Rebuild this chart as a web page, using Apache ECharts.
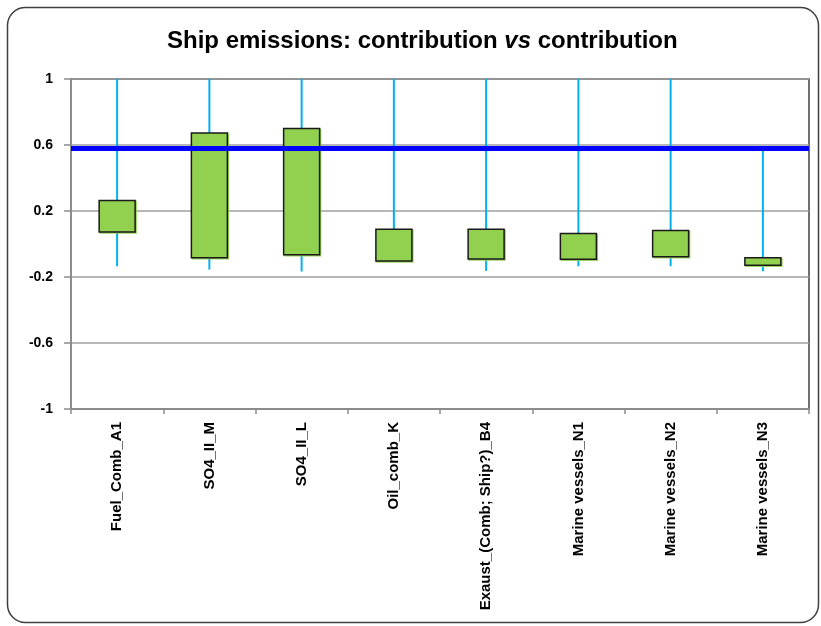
<!DOCTYPE html>
<html>
<head>
<meta charset="utf-8">
<script src="https://cdn.jsdelivr.net/npm/echarts@6/dist/echarts.min.js"></script>
<style>html,body{margin:0;padding:0;background:#fff;}#c{width:821px;height:626px;}</style>
</head>
<body>
<div id="c"></div>
<script>
const categories = ['Fuel_Comb_A1','SO4_II_M','SO4_II_L','Oil_comb_K','Exaust_(Comb; Ship?)_B4','Marine vessels_N1','Marine vessels_N2','Marine vessels_N3'];
const boxHigh = [0.263, 0.673, 0.700, 0.090, 0.090, 0.064, 0.082, -0.083];
const boxLow = [0.072, -0.083, -0.065, -0.103, -0.091, -0.093, -0.077, -0.129];
const whiskerHigh = [1, 1, 1, 1, 1, 1, 1, 0.58];
const whiskerLow = [-0.135, -0.155, -0.167, -0.103, -0.163, -0.135, -0.135, -0.165];
const threshold = 0.585;
const yMin = -1, yMax = 1, yStep = 0.4;

const chart = echarts.init(document.getElementById('c'), null, {renderer: 'canvas'});
const FONT = 'Liberation Sans';

function renderItem(params, api) {
  const i = api.value(0);
  const x = api.coord([i, 0])[0];
  const yBL = api.coord([i, api.value(1)])[1];
  const yBH = api.coord([i, api.value(2)])[1];
  const yWL = api.coord([i, api.value(3)])[1];
  const yWH = api.coord([i, api.value(4)])[1];
  const bw = api.size([1, 0])[0] * 0.39;
  return {
    type: 'group',
    children: [
      {type: 'line', shape: {x1: x, y1: yWH, x2: x, y2: yWL}, style: {stroke: '#00B0F0', lineWidth: 2}},
      {type: 'rect', shape: {x: x - bw / 2, y: yBH, width: bw, height: yBL - yBH},
       style: {fill: '#92D050', stroke: '#1a1a1a', lineWidth: 1.5, shadowColor: 'rgba(146,208,80,0.9)', shadowOffsetX: 1, shadowOffsetY: 1, shadowBlur: 0}}
    ]
  };
}

chart.setOption({
  animation: false,
  textStyle: {fontFamily: FONT},
  title: {
    text: '{n|Ship emissions: contribution }{i|vs}{n| contribution}',
    left: 162, top: 24,
    textStyle: {
      rich: {
        n: {fontFamily: FONT, fontWeight: 'bold', fontSize: 24, color: '#000'},
        i: {fontFamily: FONT, fontWeight: 'bold', fontStyle: 'italic', fontSize: 24, color: '#000'}
      }
    }
  },
  graphic: [{
    type: 'rect', left: 5, top: 5, silent: true,
    shape: {width: 811, height: 615, r: 18},
    style: {fill: 'none', stroke: '#404040', lineWidth: 1.5}
  }],
  grid: {left: 71, right: 12, top: 79, bottom: 217, show: true, borderColor: '#404040', borderWidth: 1.5, backgroundColor: 'transparent'},
  xAxis: {
    type: 'category', data: categories, boundaryGap: true,
    axisLine: {onZero: false, lineStyle: {color: '#8c8c8c', width: 2}},
    axisTick: {show: true, length: 5, lineStyle: {color: '#8c8c8c', width: 1.5}},
    axisLabel: {rotate: 90, interval: 0, margin: 13, fontSize: 15, fontWeight: 'bold', color: '#000', fontFamily: FONT},
    splitLine: {show: false}
  },
  yAxis: {
    type: 'value', min: yMin, max: yMax, interval: yStep,
    axisLine: {show: true, lineStyle: {color: '#8c8c8c', width: 2}},
    axisTick: {show: true, length: 7, lineStyle: {color: '#8c8c8c', width: 1.5}},
    axisLabel: {margin: 18, fontSize: 14, fontWeight: 'bold', color: '#000', fontFamily: FONT,
      formatter: v => String(Number(v.toFixed(1)))},
    splitLine: {show: true, lineStyle: {color: '#a0a0a0', width: 1.5}}
  },
  series: [{
    type: 'custom',
    renderItem: renderItem,
    data: categories.map((c, i) => [i, boxLow[i], boxHigh[i], whiskerLow[i], whiskerHigh[i]]),
    encode: {x: 0, y: [1, 2, 3, 4]},
    clip: false,
    markLine: {
      silent: true, symbol: ['none', 'none'], label: {show: false},
      lineStyle: {color: '#0000FF', width: 5, type: 'solid'},
      data: [{yAxis: threshold}]
    }
  }]
});
</script>
</body>
</html>
